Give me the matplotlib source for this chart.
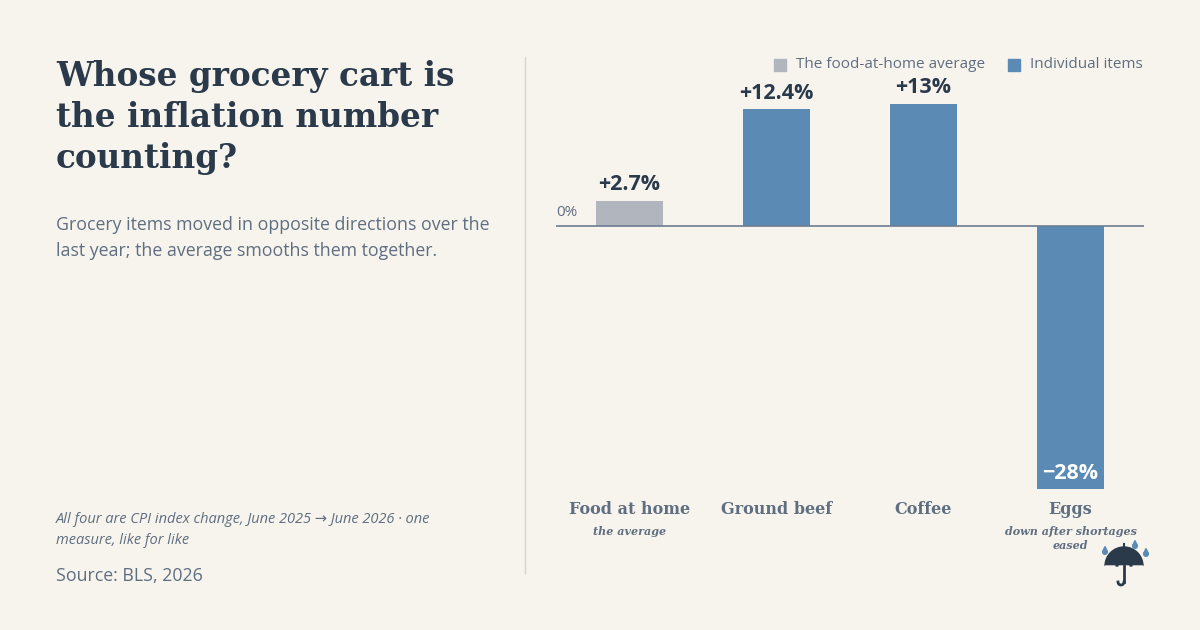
import matplotlib
matplotlib.use("Agg")
import matplotlib.pyplot as plt
from matplotlib.patches import Wedge, Polygon, Circle
import numpy as np

categories = ["Food at home", "Ground beef", "Coffee", "Eggs"]
sublabels = ["the average", "", "", "down after shortages\neased"]
values = [2.7, 12.4, 13.0, -28.0]
value_labels = ["+2.7%", "+12.4%", "+13%", "\u221228%"]
is_average = [True, False, False, False]

BG = "#f7f4ee"
BLUE = "#5b8bb5"
GRAY = "#b1b6be"
DARK = "#2b3a4a"
MID = "#5f6e80"
SERIF = ["DejaVu Serif"]
SANS = ["Open Sans", "DejaVu Sans"]

fig = plt.figure(figsize=(12, 6.3), dpi=100, facecolor=BG)

fig.text(56/1200, 1-60/630, "Whose grocery cart is\nthe inflation number\ncounting?", ha="left", va="top",
         fontsize=23.5, fontweight="bold", family=SERIF, color=DARK, linespacing=1.3)
fig.text(56/1200, 1-216/630, "Grocery items moved in opposite directions over the\nlast year; the average smoothes them together.".replace("smoothes", "smooths"),
         ha="left", va="top", fontsize=12.8, family=SANS, color=MID, linespacing=1.55)
fig.text(56/1200, 1-512/630, "All four are CPI index change, June 2025 \u2192 June 2026 \u00b7 one\nmeasure, like for like",
         ha="left", va="top", fontsize=10.5, style="italic", family=SANS, color=MID, linespacing=1.5)
fig.text(56/1200, 1-567/630, "Source: BLS, 2026", ha="left", va="top", fontsize=12.8, family=SANS, color=MID)
fig.add_artist(plt.Line2D([525/1200, 525/1200], [1-57/630, 1-573/630], color="#d8d4cc", lw=1))

ax = fig.add_axes([556/1200, 130/630, 588/1200, 440/630])
ax.set_facecolor("none")
x = np.arange(len(categories))
colors = [GRAY if a else BLUE for a in is_average]
ax.bar(x, values, width=0.45, color=colors)
ax.set_xlim(-0.5, 3.5)
ax.set_ylim(-29.15, 17.66)
ax.axhline(0, color="#6d7d90", lw=1.2)
ax.axis("off")
ax.text(-0.5, 0.6, "0%", ha="left", va="bottom", fontsize=11, color=MID, family=SANS)
for xi, v, lab in zip(x, values, value_labels):
    col = DARK if v >= 0 else "white"
    ax.text(xi, v + 0.6, lab, ha="center", va="bottom", fontsize=15.5, fontweight="bold", color=col, family=SANS)
for xi, c, s in zip(x, categories, sublabels):
    ax.text(xi, -29.15 - 0.1, c, ha="center", va="top", fontsize=11.5, fontweight="bold", color=MID, family=SERIF)
    if s:
        ax.text(xi, -29.15 - 2.8, s, ha="center", va="top", fontsize=8, style="italic", fontweight="bold",
                color=MID, family=SERIF, linespacing=1.3)

fig.add_artist(plt.Rectangle((774/1200, 1-71/630), 12/1200, 12/630, color=GRAY, transform=fig.transFigure))
fig.text(796/1200, 1-65/630, "The food-at-home average", va="center", fontsize=11, color=MID, family=SANS)
fig.add_artist(plt.Rectangle((1008/1200, 1-71/630), 12/1200, 12/630, color=BLUE, transform=fig.transFigure))
fig.text(1030/1200, 1-65/630, "Individual items", va="center", fontsize=11, color=MID, family=SANS)

# umbrella icon
ia = fig.add_axes([1100/1200, 1-590/630, 60/1200, 50/630])
ia.set_xlim(0, 60); ia.set_ylim(0, 50); ia.axis("off"); ia.set_aspect("equal")
ia.add_patch(Wedge((24, 24), 19, 0, 180, color=DARK))
for sx in [10, 24, 38]:
    ia.add_patch(Wedge((sx, 24), 5, 180, 360, color=BG))
ia.plot([24, 24], [43, 46], color=DARK, lw=1.5)
ia.plot([24, 24], [24, 8], color=DARK, lw=2)
t = np.linspace(np.pi, 2*np.pi, 20)
ia.plot(24 - 3 + 3*np.cos(t), 8 + 3*np.sin(t), color=DARK, lw=2)
for dx, dy in [(5, 38), (35, 44), (46, 36)]:
    ia.add_patch(Circle((dx, dy), 2.3, color=BLUE))
    ia.add_patch(Polygon([[dx-2.2, dy+0.6], [dx+2.2, dy+0.6], [dx, dy+5.5]], color=BLUE))

fig.savefig("out.png", dpi=100, facecolor=BG)
